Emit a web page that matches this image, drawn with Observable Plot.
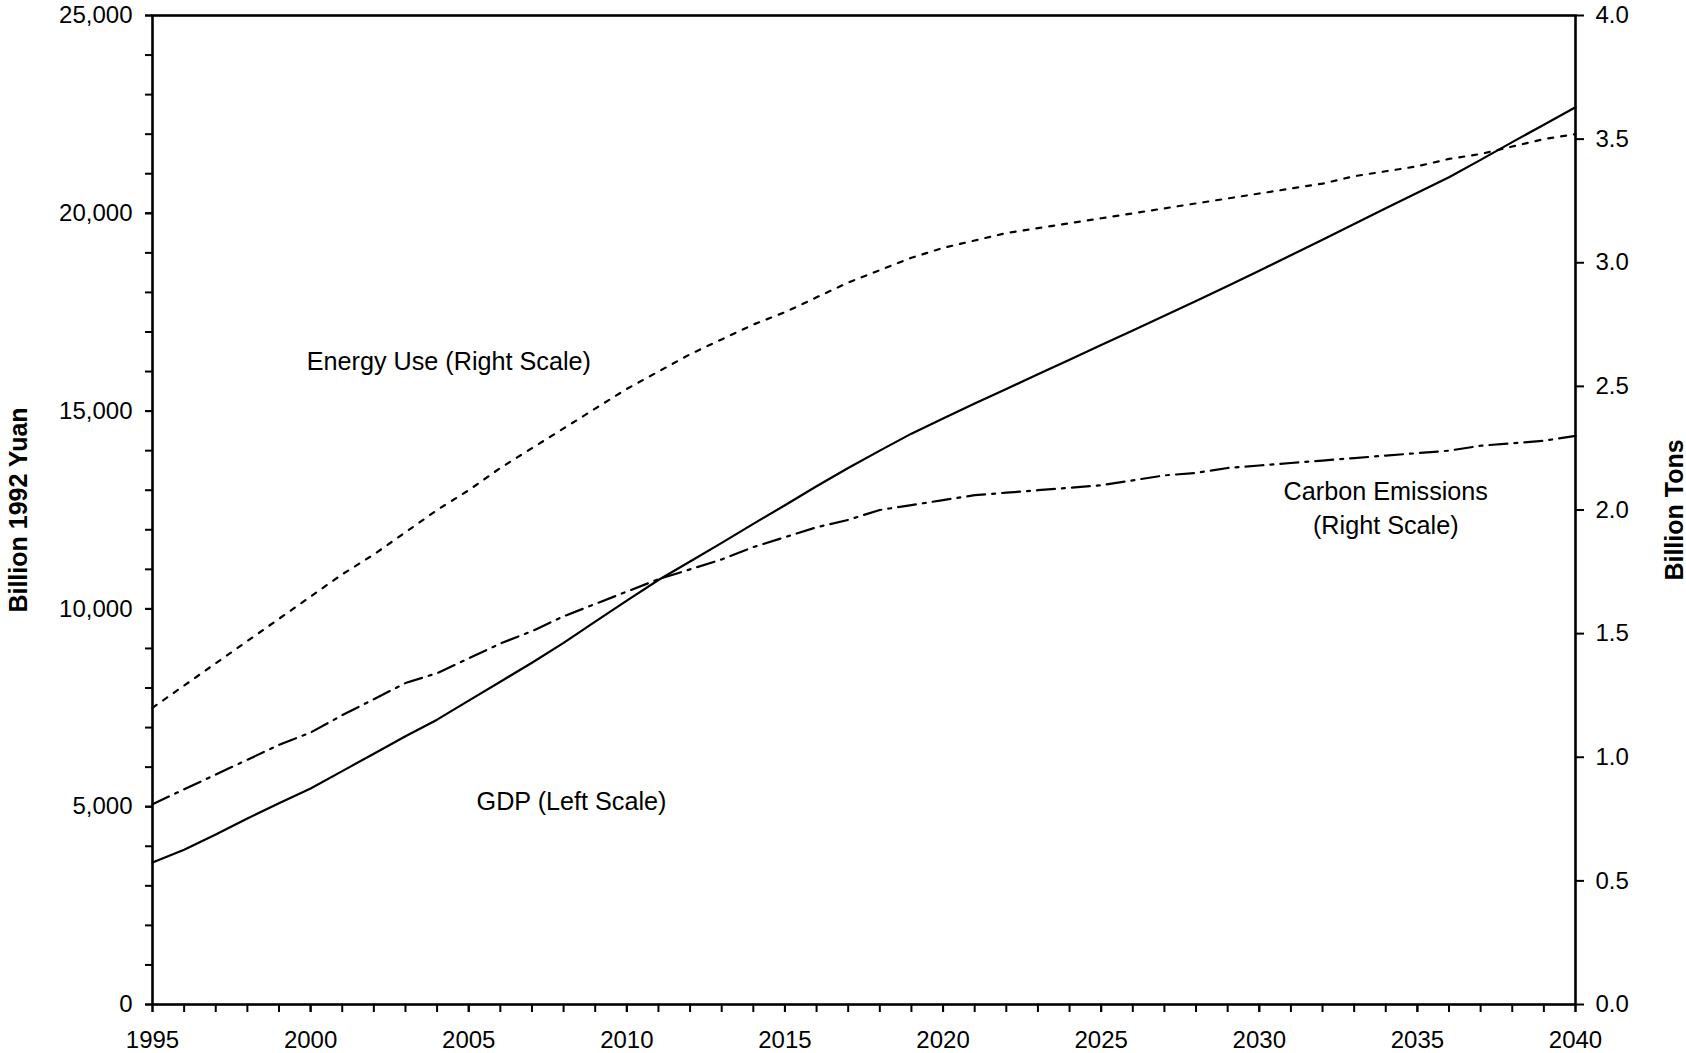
<!DOCTYPE html>
<html>
<head>
<meta charset="utf-8">
<script src="https://cdn.jsdelivr.net/npm/d3@7"></script>
<script src="https://cdn.jsdelivr.net/npm/@observablehq/plot@0.6"></script>
<style>
  html, body { margin: 0; padding: 0; background: #fff; }
  #chart { width: 1686px; height: 1053px; }
</style>
</head>
<body>
<div id="chart"></div>
<script>
// ---- data ----
const years = d3.range(1995, 2041);
// GDP, billion 1992 yuan (left scale)
const gdp = [3590, 3910, 4300, 4700, 5090, 5460, 5900, 6340, 6780, 7200,
             7680, 8160, 8640, 9140, 9680, 10210, 10730, 11200, 11670, 12150,
             12620, 13100, 13560, 14000, 14430, 14810, 15190, 15560, 15930, 16300,
             16670, 17040, 17410, 17780, 18160, 18550, 18940, 19330, 19730, 20130,
             20520, 20910, 21350, 21800, 22240, 22680];
// Energy use, billion tons (right scale)
const energy = [1.20, 1.29, 1.38, 1.47, 1.56, 1.65, 1.74, 1.82, 1.91, 2.00,
                2.08, 2.17, 2.25, 2.33, 2.41, 2.49, 2.56, 2.63, 2.69, 2.75,
                2.80, 2.86, 2.92, 2.97, 3.02, 3.06, 3.09, 3.12, 3.14, 3.16,
                3.18, 3.20, 3.22, 3.24, 3.26, 3.28, 3.30, 3.32, 3.35, 3.37,
                3.39, 3.42, 3.44, 3.47, 3.50, 3.52];
// Carbon emissions, billion tons (right scale)
const carbon = [0.81, 0.87, 0.93, 0.99, 1.05, 1.10, 1.17, 1.235, 1.30, 1.34,
                1.40, 1.46, 1.51, 1.57, 1.62, 1.67, 1.72, 1.76, 1.80, 1.85,
                1.89, 1.93, 1.96, 2.00, 2.02, 2.04, 2.06, 2.07, 2.08, 2.09,
                2.10, 2.12, 2.14, 2.15, 2.17, 2.18, 2.19, 2.20, 2.21, 2.22,
                2.23, 2.24, 2.26, 2.27, 2.28, 2.30];

const leftTicks = d3.range(0, 25001, 5000);
const leftMinor = d3.range(0, 25001, 1000);
const rightTicks = d3.range(0, 4.01, 0.5);
const xTicks = d3.range(1995, 2041, 5);
const xMinor = d3.range(1995, 2041, 1);

const leftMax = 25000, rightMax = 4;
const k = leftMax / rightMax; // right-scale value -> left-scale units

const rows = years.map((year, i) => ({year, gdp: gdp[i], energy: energy[i], carbon: carbon[i]}));

const notes = [
  {text: "Energy Use (Right Scale)", year: 2004.37, value: 16254},
  {text: "GDP (Left Scale)", year: 2008.25, value: 5131},
  {text: "Carbon Emissions", year: 2034.0, value: 12968},
  {text: "(Right Scale)", year: 2034.0, value: 12108}
];

const font = "'Liberation Sans', Arial, Helvetica, sans-serif";

const chart = Plot.plot({
  width: 1686,
  height: 1053,
  marginLeft: 152,
  marginRight: 111,
  marginTop: 15,
  marginBottom: 49,
  style: {fontFamily: font, fontSize: "24px", color: "#000", background: "#fff", overflow: "visible"},
  x: {domain: [1995, 2040]},
  y: {domain: [0, leftMax]},
  marks: [
    Plot.axisY({ticks: leftMinor, tickFormat: () => "", tickSize: 7, strokeWidth: 2, label: null}),
    Plot.axisY({ticks: leftTicks, tickFormat: d3.format(","), tickSize: 7, tickPadding: 13, strokeWidth: 2, fontSize: 24, label: null}),
    Plot.axisY({anchor: "right", ticks: rightTicks.map(v => v * k), tickFormat: d => (d / k).toFixed(1), tickSize: 8, tickPadding: 12, strokeWidth: 2, fontSize: 24, label: null}),
    Plot.axisX({ticks: xMinor, tickFormat: () => "", tickSize: 8, strokeWidth: 2, label: null}),
    Plot.axisX({ticks: xTicks, tickFormat: d => String(d), tickSize: 8, tickPadding: 18, strokeWidth: 2, fontSize: 24, label: null}),
    Plot.frame({stroke: "#000", strokeWidth: 2.6}),
    Plot.lineY(rows, {x: "year", y: d => d.energy * k, stroke: "#000", strokeWidth: 2.2, strokeDasharray: "5,8"}),
    Plot.lineY(rows, {x: "year", y: d => d.carbon * k, stroke: "#000", strokeWidth: 2.2, strokeDasharray: "18,7,3,7"}),
    Plot.lineY(rows, {x: "year", y: "gdp", stroke: "#000", strokeWidth: 2.2}),
    Plot.text(notes, {x: "year", y: "value", text: "text", fontSize: 25.2, fill: "#000", textAnchor: "middle"}),
    Plot.text(["Billion 1992 Yuan"], {frameAnchor: "left", textAnchor: "middle", dx: -134, rotate: -90, fontSize: 25, fontWeight: "bold", fill: "#000"}),
    Plot.text(["Billion Tons"], {frameAnchor: "right", textAnchor: "middle", dx: 99, rotate: -90, fontSize: 25, fontWeight: "bold", fill: "#000"})
  ]
});

document.getElementById("chart").appendChild(chart);
</script>
</body>
</html>
